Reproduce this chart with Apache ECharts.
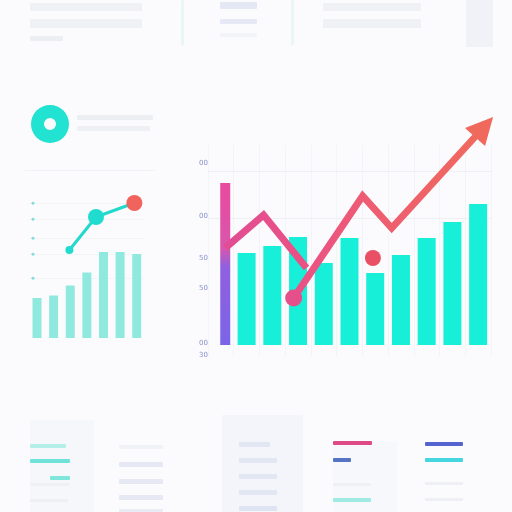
<!DOCTYPE html>
<html>
<head>
<meta charset="utf-8">
<script src="https://cdn.jsdelivr.net/npm/echarts@6/dist/echarts.min.js"></script>
<style>
  html, body { margin: 0; padding: 0; background: #fbfbfd; }
  #chart { width: 512px; height: 512px; }
</style>
</head>
<body>
<div id="chart"></div>
<script>
// 主图数据
const mainCategories = ['0', '1', '2', '3', '4', '5', '6', '7', '8', '9', '10'];
const mainBars = ['-', 46, 49.5, 54, 41, 53.5, 36, 45, 53.5, 61.5, 70.5];
const leadBar = [[0.17, 81]];
const trendA = [[0.17, 48.5], [1.66, 65], [3.33, 38.5]];
const trendB = [[2.83, 23.5], [5.51, 74.5], [6.64, 58.5], [10.23, 109]];
const loneDot = [[5.91, 43.5]];
const mainTickValues = [91, 64.6, 43.5, 28.6, 1, -5];
const mainTickLabels = ['00', '00', '50', '50', '00', '30'];
const mainGuideLines = [87, 63.5];

// 左侧小图数据
const smallCategories = ['a', 'b', 'c', 'd', 'e', 'f', 'g'];
const smallBars = [40, 42.5, 52.5, 65.5, 86, 86, 84];
const smallLine = [[1.95, 88], [3.55, 121], [5.86, 135]];
const smallTicks = [135, 119, 100, 84, 60];

// 圆环
const donutValue = [1];

// 装饰性占位块 (界面骨架)
const skeleton = [
    [30, 3, 112, 8, '#eff1f4'], [30, 19, 112, 9, '#eff1f4'], [30, 36, 33, 5, '#eceef2'],
    [181, 0, 3, 45, '#e9f6f4'], [291, 0, 3, 45, '#e9f6f4'],
    [220, 2, 37, 7, '#e4e8f5'], [220, 19, 37, 5, '#e6e9f5'], [220, 33, 37, 4, '#f3f4f8'],
    [323, 3, 98, 8, '#eff1f4'], [323, 19, 98, 9, '#eff1f4'],
    [466, 0, 27, 47, '#f1f2f8'],
    [77, 115, 76, 5, '#eceef2'], [77, 126, 73, 5, '#eef0f3'],
    [25, 170, 130, 1, '#f1f2f5'],
    [30, 420, 64, 92, '#f6f7fa'],
    [30, 444, 36, 4, '#b5efe9'], [30, 459, 40, 4, '#6fe3da'], [50, 476, 20, 4, '#7fe6dc'],
    [30, 483, 40, 3, '#eef0f4'], [30, 499, 38, 3, '#edeff3'],
    [119, 445, 44, 4, '#f0f2f6'], [119, 462, 44, 5, '#e6e9f3'], [119, 479, 44, 5, '#e6e9f3'],
    [119, 495, 44, 5, '#e6e9f3'], [119, 509, 44, 3, '#e9ecf4'],
    [222, 415, 81, 97, '#f4f5fa'],
    [239, 442, 31, 5, '#e3e7f3'], [239, 458, 38, 5, '#e3e7f3'], [239, 474, 38, 5, '#e3e7f3'],
    [239, 490, 38, 5, '#e3e7f3'], [239, 506, 38, 5, '#dfe4f2'],
    [333, 442, 64, 70, '#f7f8fb'],
    [333, 441, 39, 4, '#df4a86'], [333, 458, 18, 4, '#5575c2'], [333, 483, 38, 3, '#eef0f5'],
    [333, 498, 38, 4, '#9feae2'],
    [425, 442, 38, 4, '#5563d0'], [425, 458, 38, 4, '#45d6e0'], [425, 482, 38, 3, '#eef0f5'],
    [425, 498, 38, 3, '#eef0f5']
];

const chart = echarts.init(document.getElementById('chart'));

const lineGradA = new echarts.graphic.LinearGradient(0, 0, 1, 0, [
    { offset: 0, color: '#e14d94' },
    { offset: 1, color: '#ea5283' }
]);
const lineGradB = new echarts.graphic.LinearGradient(0, 0, 1, 0, [
    { offset: 0, color: '#e9508a' },
    { offset: 0.4, color: '#ee5c72' },
    { offset: 1, color: '#f06a5c' }
]);

const option = {
    backgroundColor: '#fbfbfd',
    animation: false,
    graphic: skeleton.map(r => ({
        type: 'rect',
        z: -10,
        silent: true,
        shape: { x: r[0], y: r[1], width: r[2], height: r[3], r: 1 },
        style: { fill: r[4] }
    })),
    grid: [
        { left: 208, right: 21, top: 145, bottom: 155 },
        { left: 28.7, right: 367, top: 188, bottom: 174 }
    ],
    xAxis: [
        {
            gridIndex: 0, type: 'category', data: mainCategories,
            axisLine: { show: false }, axisTick: { show: false }, axisLabel: { show: false },
            splitLine: { show: true, lineStyle: { color: '#f3f4f7', width: 1 } }
        },
        {
            gridIndex: 0, type: 'value', min: -0.5, max: 10.5, show: false
        },
        {
            gridIndex: 1, type: 'category', data: smallCategories,
            axisLine: { show: false }, axisTick: { show: false }, axisLabel: { show: false },
            splitLine: { show: false }
        },
        {
            gridIndex: 1, type: 'value', min: -0.5, max: 6.5, show: false
        }
    ],
    yAxis: [
        {
            gridIndex: 0, type: 'value', min: -6, max: 100,
            axisLine: { show: false }, axisTick: { show: false },
            splitLine: { show: false },
            axisLabel: {
                customValues: mainTickValues,
                margin: 0,
                color: '#8b90c9',
                fontSize: 7,
                fontFamily: 'DejaVu Sans',
                formatter: function (v) {
                    const i = mainTickValues.indexOf(v);
                    return i >= 0 ? mainTickLabels[i] : '';
                }
            }
        },
        {
            gridIndex: 1, type: 'value', min: 0, max: 150,
            axisLine: { show: false },
            axisTick: { show: false, customValues: smallTicks },
            splitLine: { show: true, lineStyle: { color: '#f3f4f6' } },
            axisLabel: {
                customValues: smallTicks,
                inside: true,
                margin: 2,
                color: '#7fe0d6',
                fontSize: 7,
                formatter: () => '●'
            }
        }
    ],
    series: [
        {
            name: '参考线',
            type: 'line',
            xAxisIndex: 0, yAxisIndex: 0,
            data: [],
            z: 0,
            markLine: {
                silent: true,
                z: 0,
                symbol: 'none',
                label: { show: false },
                lineStyle: { color: '#eef0f3', type: 'solid', width: 1 },
                data: mainGuideLines.map(v => ({ yAxis: v }))
            }
        },
        {
            name: '柱',
            type: 'bar',
            xAxisIndex: 0, yAxisIndex: 0,
            data: mainBars,
            barWidth: 18,
            itemStyle: { color: '#18efd9' },
            z: 2
        },
        {
            name: '首柱',
            type: 'bar',
            xAxisIndex: 1, yAxisIndex: 0,
            data: leadBar,
            barWidth: 10,
            itemStyle: {
                color: new echarts.graphic.LinearGradient(0, 0, 0, 1, [
                    { offset: 0, color: '#e94a9e' },
                    { offset: 0.4, color: '#d956ad' },
                    { offset: 0.52, color: '#8f60df' },
                    { offset: 1, color: '#7c64e8' }
                ])
            },
            z: 3
        },
        {
            name: '趋势A',
            type: 'line',
            xAxisIndex: 1, yAxisIndex: 0,
            data: trendA,
            symbol: 'none',
            clip: false,
            lineStyle: { width: 7, color: lineGradA, cap: 'butt', join: 'miter' },
            z: 4
        },
        {
            name: '趋势B',
            type: 'line',
            xAxisIndex: 1, yAxisIndex: 0,
            clip: false,
            data: trendB.map((p, i) => {
                if (i === 0) {
                    return { value: p, symbol: 'circle', symbolSize: 17, itemStyle: { color: '#e5508b' } };
                }
                if (i === trendB.length - 1) {
                    return { value: p, symbol: 'triangle', symbolSize: 27, symbolRotate: -42, itemStyle: { color: '#f0695d' } };
                }
                return { value: p, symbol: 'none' };
            }),
            showAllSymbol: true,
            lineStyle: { width: 7, color: lineGradB, cap: 'butt', join: 'miter' },
            z: 5
        },
        {
            name: '点',
            type: 'scatter',
            xAxisIndex: 1, yAxisIndex: 0,
            data: loneDot,
            symbolSize: 16,
            itemStyle: { color: '#e94f65', opacity: 1 },
            z: 5
        },
        {
            name: '小柱',
            type: 'bar',
            xAxisIndex: 2, yAxisIndex: 1,
            data: smallBars,
            barWidth: 9,
            itemStyle: { color: '#90e9df' }
        },
        {
            name: '小线',
            type: 'line',
            xAxisIndex: 3, yAxisIndex: 1,
            clip: false,
            data: smallLine.map((p, i) => ({
                value: p,
                symbol: 'circle',
                symbolSize: i === 0 ? 8 : 16,
                itemStyle: { color: i === smallLine.length - 1 ? '#f1645e' : '#20dccf' }
            })),
            showAllSymbol: true,
            lineStyle: { width: 3, color: '#22d9cc' },
            z: 4
        },
        {
            name: '圆环',
            type: 'pie',
            center: [50, 124],
            radius: [6, 19],
            silent: true,
            label: { show: false },
            labelLine: { show: false },
            data: donutValue.map(v => ({ value: v, itemStyle: { color: '#22e2d1' } }))
        }
    ]
};

chart.setOption(option);
</script>
</body>
</html>
